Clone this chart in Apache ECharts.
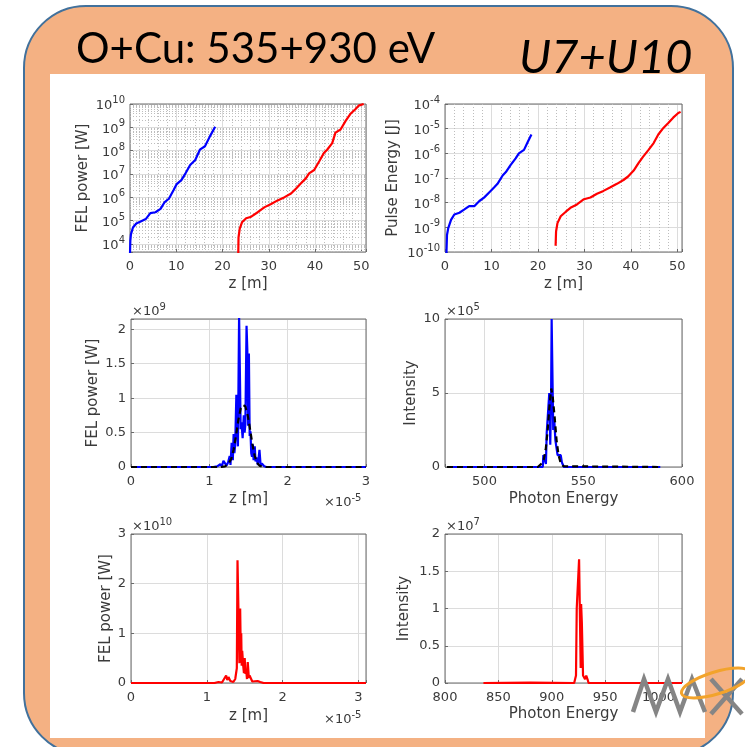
<!DOCTYPE html>
<html>
<head>
<meta charset="utf-8">
<script src="https://cdn.jsdelivr.net/npm/echarts@6/dist/echarts.min.js"></script>
<style>
  html, body { margin: 0; padding: 0; background: #ffffff; }
  #c { width: 745px; height: 747px; }
</style>
</head>
<body>
<div id="c"></div>
<script>
// ---- Gain curves: FEL power [W] along the undulator, z [m] ----
const gainZBlue = [0, 0.07, 0.2, 0.64, 1.36, 2.3, 3.4, 4.4, 5.5, 6.6, 7.5, 8.4, 9.4, 10.1, 11.1, 12.0, 13.0, 14.1, 15.1, 16.2, 17.3, 18.4];
const gainPBlue = [3.9e3, 1.35e4, 2.6e4, 5.1e4, 7.6e4, 9.3e4, 1.17e5, 2.1e5, 2.3e5, 3.2e5, 6.3e5, 8.7e5, 2.0e6, 3.7e6, 5.5e6, 1.07e7, 2.45e7, 4.0e7, 1.1e8, 1.55e8, 4.2e8, 1.07e9];
const gainZRed = [23.4, 23.45, 23.7, 24.2, 25.1, 26.2, 27.6, 29.1, 30.5, 31.9, 33.4, 34.8, 35.9, 36.9, 38.0, 38.7, 39.8, 40.9, 41.9, 42.6, 43.7, 44.4, 45.5, 46.6, 47.6, 48.7, 49.4, 50.5];
const gainPRed = [4.0e3, 1.9e4, 4.4e4, 8.5e4, 1.26e5, 1.48e5, 2.3e5, 3.8e5, 5.2e5, 7.4e5, 1.02e6, 1.45e6, 2.4e6, 3.9e6, 6.5e6, 1.07e7, 1.48e7, 3.5e7, 7.9e7, 1.1e8, 2.1e8, 5.9e8, 8.1e8, 1.9e9, 3.7e9, 6.0e9, 8.5e9, 1.0e10];

// ---- Pulse energy [J] along the undulator ----
const energyZBlue = [0.3, 0.43, 0.7, 1.3, 2.0, 3.1, 4.1, 5.2, 6.3, 7.4, 8.4, 9.5, 10.6, 11.3, 12.4, 13.1, 14.1, 15.2, 15.9, 17.0, 17.7, 18.6];
const energyEBlue = [8e-11, 4.9e-10, 9.3e-10, 2.0e-9, 3.3e-9, 3.9e-9, 5.2e-9, 7.2e-9, 7.2e-9, 1.17e-8, 1.6e-8, 2.6e-8, 4.2e-8, 5.8e-8, 1.26e-7, 1.74e-7, 3.3e-7, 6.2e-7, 1.0e-6, 1.38e-6, 2.6e-6, 5.8e-6];
const energyZRed = [23.8, 23.9, 24.2, 24.9, 26.0, 27.0, 28.4, 29.9, 31.3, 32.7, 34.1, 35.6, 37.0, 38.4, 39.4, 40.6, 41.6, 42.6, 43.8, 44.9, 45.9, 47.0, 48.1, 49.1, 50.2, 50.7];
const energyERed = [1.8e-10, 6.8e-10, 1.48e-9, 2.8e-9, 4.3e-9, 6.2e-9, 8.5e-9, 1.38e-8, 1.62e-8, 2.3e-8, 3.0e-8, 4.2e-8, 5.8e-8, 8.3e-8, 1.15e-7, 2.0e-7, 3.9e-7, 7.2e-7, 1.38e-6, 2.6e-6, 5.8e-6, 1.07e-5, 1.74e-5, 2.8e-5, 4.3e-5, 4.8e-5];

// ---- 535 eV pulse: temporal profile (z in 1e-5 m, power in 1e9 W) ----
const prof1Z = [0, 1.05, 1.10, 1.14, 1.16, 1.18, 1.20, 1.22, 1.24, 1.26, 1.27, 1.285, 1.30, 1.31, 1.32, 1.33, 1.345, 1.355, 1.365, 1.38, 1.39, 1.40, 1.41, 1.425, 1.44, 1.45, 1.46, 1.475, 1.485, 1.495, 1.505, 1.515, 1.525, 1.535, 1.545, 1.555, 1.565, 1.58, 1.59, 1.60, 1.62, 1.64, 1.655, 1.67, 1.70, 1.73, 3];
const prof1P = [0, 0, 0.01, 0.04, 0.01, 0.09, 0.11, 0.02, 0.07, 0.16, 0.03, 0.35, 0.10, 0.48, 0.20, 0.32, 1.05, 0.60, 0.30, 2.2, 2.2, 0.55, 0.65, 0.42, 0.75, 0.50, 0.62, 2.05, 1.70, 0.60, 1.65, 0.45, 0.52, 0.20, 0.15, 0.33, 0.10, 0.30, 0.08, 0.14, 0.03, 0.25, 0.02, 0.05, 0.01, 0, 0];
const prof1EnvZ = [0, 1.15, 1.20, 1.24, 1.28, 1.31, 1.34, 1.37, 1.40, 1.43, 1.46, 1.49, 1.52, 1.55, 1.58, 1.61, 1.64, 1.68, 3];
const prof1EnvP = [0, 0, 0.01, 0.04, 0.12, 0.25, 0.45, 0.68, 0.85, 0.90, 0.88, 0.75, 0.55, 0.33, 0.16, 0.06, 0.02, 0, 0];

// ---- 535 eV pulse: spectrum (photon energy in eV, intensity in 1e5) ----
const spec1E = [481, 529.5, 529.8, 530.6, 531.1, 531.5, 532.4, 532.8, 533.3, 533.7, 534.0, 534.5, 534.8, 535.3, 535.9, 536.5, 537.0, 538.6, 539.2, 539.6, 540.2, 589];
const spec1I = [0, 0, 0.8, 0.8, 0.2, 2.3, 2.3, 5.0, 1.5, 4.6, 10, 10, 2.5, 3.2, 1.8, 1.8, 0.8, 0.8, 0.3, 0.2, 0, 0];
const spec1EnvE = [481, 527, 528, 529, 530, 531, 532, 533, 533.8, 534.5, 535.5, 536.5, 537.5, 538.5, 540, 541, 588];
const spec1EnvI = [0, 0, 0.1, 0.25, 0.5, 1.2, 2.5, 4.3, 5.3, 4.8, 3.4, 1.8, 0.8, 0.3, 0.05, 0, 0];

// ---- 930 eV pulse: temporal profile (z in 1e-5 m, power in 1e10 W) ----
const prof2Z = [0, 1.10, 1.154, 1.176, 1.20, 1.22, 1.255, 1.27, 1.286, 1.31, 1.35, 1.375, 1.396, 1.405, 1.425, 1.43, 1.44, 1.448, 1.454, 1.46, 1.467, 1.48, 1.49, 1.50, 1.51, 1.52, 1.53, 1.54, 1.555, 1.564, 1.586, 1.60, 1.617, 1.67, 1.705, 1.75, 3.1];
const prof2P = [0, 0, 0.02, 0.05, 0.01, 0.03, 0.15, 0.06, 0.12, 0.04, 0.02, 0.08, 0.30, 2.47, 2.45, 0.40, 1.50, 0.60, 1.00, 0.35, 0.65, 0.35, 0.20, 0.50, 0.18, 0.25, 0.08, 0.42, 0.10, 0.15, 0.12, 0.03, 0.05, 0.04, 0.02, 0, 0];

// ---- 930 eV pulse: spectrum (photon energy in eV, intensity in 1e7) ----
const spec2E = [836, 880, 921, 922.7, 923.4, 924.9, 925.6, 926.8, 927.1, 927.5, 928.2, 928.8, 929.3, 930.7, 931.2, 932.3, 933.5, 934.5, 1022];
const spec2I = [0, 0.005, 0, 0.1, 1.0, 1.02, 1.66, 1.66, 0.2, 1.06, 0.8, 0.78, 0.1, 0.1, 0.05, 0.1, 0.05, 0, 0];

// ---- Text ----
const titleLeft = 'O+Cu: 535+930 eV';
const titleRight = 'U7+U10';
const axisNames = {
  z: 'z [m]', fel: 'FEL power [W]', pulse: 'Pulse Energy [J]',
  intensity: 'Intensity', photon: 'Photon Energy'
};
// Axis multipliers: [panel, base, exponent]
const multipliers = [
  ['p3y', '×10', '9'], ['p3x', '×10', '-5'], ['p4y', '×10', '5'],
  ['p5y', '×10', '10'], ['p5x', '×10', '-5'], ['p6y', '×10', '7']
];

// ---- Styling ----
const TXT = '#3a3a3a';
const BOX = '#6a6a6a';
const GRIDC = '#dcdcdc';
const MINC = '#bdbdbd';
const FONT = 'DejaVu Sans';
const TICK_FS = 13;
const NAME_FS = 15;
const BLUE = '#0000ff';
const RED = '#ff0000';

function merge(a, b) {
  const o = Object.assign({}, a);
  for (const k in b) {
    if (b[k] && typeof b[k] === 'object' && !Array.isArray(b[k]) && o[k] && typeof o[k] === 'object') o[k] = merge(o[k], b[k]);
    else o[k] = b[k];
  }
  return o;
}
const zip = (xs, ys) => xs.map((x, i) => [x, ys[i]]);

// Labels only on whole multiples of the step (hides the extent end ticks)
function stepFmt(step) {
  return v => {
    const q = v / step;
    return Math.abs(q - Math.round(q)) < 1e-6 ? String(+v.toFixed(4)) : '';
  };
}
function powFmt(v) {
  const e = Math.log10(v);
  const r = Math.round(e);
  if (Math.abs(e - r) > 1e-4) return '';
  return '{b|10}{s|' + r + '}';
}
const powRich = {
  b: { fontSize: TICK_FS, fontFamily: FONT, color: TXT, verticalAlign: 'bottom' },
  s: { fontSize: 10, fontFamily: FONT, color: TXT, verticalAlign: 'bottom', padding: [0, 0, 7, 0] }
};

const baseAxis = {
  type: 'value',
  nameLocation: 'middle',
  nameTextStyle: { color: TXT, fontSize: NAME_FS, fontFamily: FONT },
  axisLine: { show: false },
  axisTick: { show: true, inside: true, length: 3, lineStyle: { color: BOX } },
  axisLabel: { color: TXT, fontSize: TICK_FS, fontFamily: FONT, margin: 8, showMinLabel: true, showMaxLabel: true },
  splitLine: { show: true, lineStyle: { color: GRIDC, width: 1 } }
};
const ax = o => merge(baseAxis, o);

const gridBoxes = [
  { left: 130, top: 104, width: 236, height: 148 },
  { left: 445, top: 104, width: 237, height: 148 },
  { left: 131, top: 319, width: 235, height: 148 },
  { left: 445, top: 319, width: 237, height: 148 },
  { left: 131, top: 534, width: 235, height: 149 },
  { left: 445, top: 534, width: 237, height: 149 }
];
const grids = gridBoxes.map(g => Object.assign({
  show: true, borderColor: BOX, borderWidth: 1, backgroundColor: 'transparent',
  containLabel: false, outerBoundsMode: 'none', z: 1
}, g));

const xAxes = [
  ax({ gridIndex: 0, min: 0, max: 51, interval: 10, name: axisNames.z, nameGap: 25, axisLabel: { formatter: stepFmt(10) } }),
  ax({ gridIndex: 1, min: 0, max: 51, interval: 10, name: axisNames.z, nameGap: 25, axisLabel: { formatter: stepFmt(10) } }),
  ax({ gridIndex: 2, min: 0, max: 3, interval: 1, name: axisNames.z, nameGap: 25, axisLabel: { formatter: stepFmt(1) } }),
  ax({ gridIndex: 3, min: 480, max: 600, splitNumber: 2, name: axisNames.photon, nameGap: 25, axisLabel: { formatter: stepFmt(50) } }),
  ax({ gridIndex: 4, min: 0, max: 3.1, interval: 1, name: axisNames.z, nameGap: 26, axisLabel: { formatter: stepFmt(1) } }),
  ax({ gridIndex: 5, min: 800, max: 1022, interval: 50, name: axisNames.photon, nameGap: 24, axisLabel: { formatter: stepFmt(50) } })
];
const yAxes = [
  ax({ gridIndex: 0, type: 'log', logBase: 10, min: 4540, max: 1e10, name: axisNames.fel, nameGap: 39,
       axisLabel: { formatter: powFmt, rich: powRich, margin: 5 } }),
  ax({ gridIndex: 1, type: 'log', logBase: 10, min: 1e-10, max: 1e-4, name: axisNames.pulse, nameGap: 44,
       axisLabel: { formatter: powFmt, rich: powRich, margin: 5 } }),
  ax({ gridIndex: 2, min: 0, max: 2.15, interval: 0.5, name: axisNames.fel, nameGap: 30, axisLabel: { formatter: stepFmt(0.5), margin: 5 } }),
  ax({ gridIndex: 3, min: 0, max: 10, interval: 5, name: axisNames.intensity, nameGap: 26, axisLabel: { formatter: stepFmt(5), margin: 5 } }),
  ax({ gridIndex: 4, min: 0, max: 3, interval: 1, name: axisNames.fel, nameGap: 17, axisLabel: { formatter: stepFmt(1), margin: 5 } }),
  ax({ gridIndex: 5, min: 0, max: 2, interval: 0.5, name: axisNames.intensity, nameGap: 33, axisLabel: { formatter: stepFmt(0.5), margin: 5 } })
];

// Dotted minor grid for the two logarithmic panels
function logMinors(lo, hi) {
  const out = [];
  for (let e = Math.floor(Math.log10(lo)); e < Math.ceil(Math.log10(hi)); e++) {
    for (let k = 2; k <= 9; k++) {
      const v = k * Math.pow(10, e);
      if (v > lo * 1.0001 && v < hi * 0.9999) out.push({ yAxis: v });
    }
  }
  return out;
}
function linMinors(lo, hi, step, major) {
  const out = [];
  for (let v = lo + step; v < hi - 1e-9; v += step) {
    const q = v / major;
    if (Math.abs(q - Math.round(q)) > 1e-6) out.push({ xAxis: +v.toFixed(6) });
  }
  return out;
}
function minorGrid(i, ylo, yhi) {
  return {
    type: 'line', xAxisIndex: i, yAxisIndex: i, data: [], z: 1, silent: true,
    markLine: {
      silent: true, symbol: ['none', 'none'], animation: false, z: 1,
      label: { show: false },
      lineStyle: { color: MINC, type: [1, 2], width: 1 },
      emphasis: { disabled: true },
      data: logMinors(ylo, yhi).concat(linMinors(0, 51, 2, 10))
    }
  };
}

function curve(i, xs, ys, color, dashed) {
  return {
    type: 'line', xAxisIndex: i, yAxisIndex: i, data: zip(xs, ys),
    showSymbol: false, symbol: 'none', clip: true, z: dashed ? 11 : 10, silent: true,
    lineStyle: { color: color, width: 2.2, type: dashed ? [6, 4] : 'solid' }
  };
}

const series = [
  minorGrid(0, 4540, 1e10),
  minorGrid(1, 1e-10, 1e-4),
  curve(0, gainZBlue, gainPBlue, BLUE),
  curve(0, gainZRed, gainPRed, RED),
  curve(1, energyZBlue, energyEBlue, BLUE),
  curve(1, energyZRed, energyERed, RED),
  curve(2, prof1Z, prof1P, BLUE),
  curve(2, prof1EnvZ, prof1EnvP, '#000000', true),
  curve(3, spec1E, spec1I, BLUE),
  curve(3, spec1EnvE, spec1EnvI, '#000000', true),
  curve(4, prof2Z, prof2P, RED),
  curve(5, spec2E, spec2I, RED)
];

// Multiplier annotations placed at the axis corners
const multPos = {
  p3y: [132, 310], p3x: [324, 501], p4y: [446, 310],
  p5y: [132, 525], p5x: [324, 718], p6y: [446, 525]
};
const multTexts = multipliers.map(([key, base, exp]) => ({
  type: 'text', x: multPos[key][0], y: multPos[key][1], z: 50, silent: true,
  style: {
    text: '{b|' + base + '}{s|' + exp + '}',
    verticalAlign: 'middle',
    rich: {
      b: { fontSize: TICK_FS, fontFamily: FONT, fill: TXT, verticalAlign: 'bottom' },
      s: { fontSize: 10, fontFamily: FONT, fill: TXT, verticalAlign: 'bottom', padding: [0, 0, 6, 0] }
    }
  }
}));

const graphic = [
  // slide frame
  { type: 'rect', z: -20, silent: true, shape: { x: 24, y: 6, width: 709, height: 749, r: 62 },
    style: { fill: '#F4B183', stroke: '#41719C', lineWidth: 2 } },
  { type: 'rect', z: -19, silent: true, shape: { x: 50, y: 74, width: 655, height: 664 },
    style: { fill: '#ffffff' } },
  { type: 'text', z: 10, silent: true, x: 76, y: 49,
    style: { text: titleLeft, font: '42px Lato', fill: '#000000', verticalAlign: 'middle' } },
  { type: 'text', z: 10, silent: true, x: 519, y: 58,
    style: { text: titleRight, font: 'italic 47px Lato', fill: '#000000', verticalAlign: 'middle' } },
  // logo
  { type: 'polyline', z: 60, silent: true,
    shape: { points: [[633, 712], [644, 679], [656, 712], [668, 679], [680, 712], [692, 679], [705, 712]] },
    style: { stroke: '#858585', lineWidth: 4.5, fill: null, lineJoin: 'miter' } },
  { type: 'line', z: 60, silent: true, shape: { x1: 711, y1: 679, x2: 742, y2: 714 },
    style: { stroke: '#858585', lineWidth: 4.5 } },
  { type: 'line', z: 60, silent: true, shape: { x1: 742, y1: 679, x2: 711, y2: 714 },
    style: { stroke: '#858585', lineWidth: 4.5 } },
  { type: 'ellipse', z: 61, silent: true, shape: { cx: 716, cy: 683, rx: 36, ry: 11 },
    rotation: 0.3, originX: 716, originY: 683,
    style: { stroke: '#F2A32B', lineWidth: 3, fill: null } }
].concat(multTexts);

const chart = echarts.init(document.getElementById('c'), null, { renderer: 'canvas' });
chart.setOption({
  animation: false,
  backgroundColor: '#ffffff',
  grid: grids,
  xAxis: xAxes,
  yAxis: yAxes,
  series: series,
  graphic: graphic
});
</script>
</body>
</html>
